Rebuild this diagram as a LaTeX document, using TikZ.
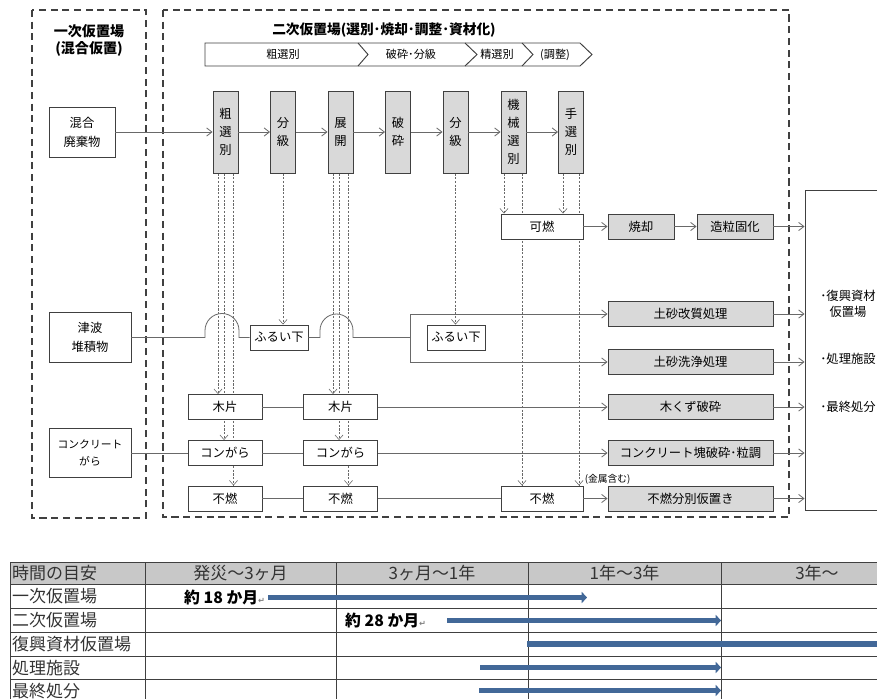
\documentclass[tikz,border=0pt]{standalone}
\usepackage{fontspec}
\setmainfont{Noto Sans CJK JP}
\newfontfamily\symfont{DejaVu Sans}
\usetikzlibrary{arrows.meta,backgrounds,calc}

\newcommand{\pxu}{0.03cm}

\definecolor{boxgray}{RGB}{217,217,217}
\definecolor{linegray}{RGB}{105,105,105}
\definecolor{edgegray}{RGB}{64,64,64}
\definecolor{headgray}{RGB}{200,200,200}
\definecolor{barblue}{RGB}{66,104,152}

\tikzset{
  box/.style={draw=edgegray, line width=0.8pt, fill=white, inner sep=0pt,
    font=\fontsize{10.5}{12}\selectfont},
  procbox/.style={box, fill=boxgray, minimum width=25*\pxu, minimum height=82*\pxu,
    align=center, font=\fontsize{10.5}{15.5}\selectfont},
  outbox/.style={box, fill=boxgray, minimum height=25*\pxu},
  itembox/.style={box, minimum width=74*\pxu, minimum height=25*\pxu},
  srcbox/.style={box, minimum height=50*\pxu, align=center,
    font=\fontsize{10.5}{16}\selectfont},
  flow/.style={draw=linegray, line width=0.7pt, -{Straight Barb[length=4.5pt,width=7pt]}},
  link/.style={draw=linegray, line width=0.7pt},
  drop/.style={draw=linegray, line width=0.5pt, dash pattern=on 1.8pt off 1.4pt,
    -{Straight Barb[length=4pt,width=7pt]}},
  zone/.style={draw=edgegray, line width=1.1pt, dash pattern=on 6pt off 4pt},
  tabline/.style={draw=black!75, line width=0.6pt},
  tabtext/.style={text=black!80, inner sep=0pt, font=\fontsize{14.5}{16}\selectfont},
  bar/.style={draw=barblue, line width=4.7pt},
}

\begin{document}
\begin{tikzpicture}[x=\pxu, y=-\pxu]
    % Fix the frame of the page
    \useasboundingbox (0,0) rectangle (877,699);

    % Draw the two yards (dashed)
    \draw[zone] (32,10) rectangle (146,518);
    \draw[zone] (163,10) rectangle (789,517);

    % Titles
    \node[font=\bfseries\fontsize{12}{14}\selectfont] (yard1) at (89,31) {一次仮置場};
    \node[font=\bfseries\fontsize{12}{14}\selectfont] (yard1b) at (89,49) {(混合仮置)};
    \node[font=\bfseries\fontsize{11.7}{14}\selectfont] (yard2) at (384,30) {二次仮置場(選別･焼却･調整･資材化)};

    % Stage header (chevrons)
    \draw[edgegray, line width=0.8pt, fill=white] (205,43) -- (580,43) -- (592,54.5) -- (580,66) -- (205,66) -- cycle;
    \foreach \xa/\xb in {358/368, 465/477, 522/533}
        \draw[edgegray, line width=0.8pt] (\xa,43) -- (\xb,54.5) -- (\xa,66);
    \node[font=\fontsize{9.5}{11}\selectfont] (stage1) at (283,54.5) {粗選別};
    \node[font=\fontsize{9.5}{11}\selectfont] (stage2) at (411,54.5) {破砕･分級};
    \node[font=\fontsize{9.5}{11}\selectfont] (stage3) at (497,54.5) {精選別};
    \node[font=\fontsize{9.5}{11}\selectfont] (stage4) at (555,54.5) {(調整)};

    % Sources
    \node[srcbox, minimum width=66*\pxu] (mixw) at (82,132) {混合\\廃棄物};
    \node[srcbox, minimum width=82*\pxu] (tsunami) at (90,337.5) {津波\\堆積物};
    \node[srcbox, minimum width=82*\pxu, minimum height=49*\pxu,
          font=\fontsize{9.2}{15}\selectfont] (conc) at (90,453) {コンクリート\\がら};

    % Process line
    \node[procbox] (p1) at (225.5,132) {粗\\選\\別};
    \node[procbox] (p2) at (283,132) {分\\級};
    \node[procbox] (p3) at (340.5,132) {展\\開};
    \node[procbox] (p4) at (398,132) {破\\砕};
    \node[procbox] (p5) at (455.5,132) {分\\級};
    \node[procbox] (p6) at (513.5,132) {機\\械\\選\\別};
    \node[procbox] (p7) at (571,132) {手\\選\\別};

    % Sorted items
    \node[itembox, minimum width=82*\pxu] (kanen) at (542,226.5) {可燃};
    \node[itembox, minimum width=58*\pxu] (furui1) at (279,337.5) {ふるい下};
    \node[itembox, minimum width=58*\pxu] (furui2) at (456,337.5) {ふるい下};
    \node[itembox] (moku1) at (225,407) {木片};
    \node[itembox] (moku2) at (340.5,407) {木片};
    \node[itembox] (kon1) at (225,453) {コンがら};
    \node[itembox] (kon2) at (340.5,453) {コンがら};
    \node[itembox] (fun1) at (225,498.5) {不燃};
    \node[itembox] (fun2) at (340.5,498.5) {不燃};
    \node[itembox, minimum width=82*\pxu] (fun3) at (542,498.5) {不燃};
    \node[anchor=south west, inner sep=1pt, font=\fontsize{8.3}{9}\selectfont] (metal) at (fun3.north east) {(金属含む)};

    % Treatment
    \node[outbox, minimum width=66*\pxu] (shokyaku) at (641,226.5) {焼却};
    \node[outbox, minimum width=76*\pxu] (zoryu) at (735,226.5) {造粒固化};
    \node[outbox, minimum width=165*\pxu] (o1) at (690.5,314) {土砂改質処理};
    \node[outbox, minimum width=165*\pxu] (o2) at (690.5,362) {土砂洗浄処理};
    \node[outbox, minimum width=165*\pxu] (o3) at (690.5,407) {木くず破砕};
    \node[outbox, minimum width=165*\pxu] (o4) at (690.5,453) {コンクリート塊破砕･粒調};
    \node[outbox, minimum width=165*\pxu] (o5) at (690.5,498.5) {不燃分別仮置き};

    % Destinations
    \node[draw=edgegray, line width=0.8pt, inner sep=0pt, minimum width=100*\pxu,
          minimum height=320*\pxu] (dest) at (855,350) {};
    \node[align=center, font=\fontsize{10.5}{13.5}\selectfont] (dest1) at (848,304) {･復興資材\\仮置場};
    \node[font=\fontsize{10.5}{12}\selectfont] (dest2) at (848,359) {･処理施設};
    \node[font=\fontsize{10.5}{12}\selectfont] (dest3) at (848,407) {･最終処分};

    % Main flow
    \draw[flow] (mixw.east) -- (p1.west);
    \foreach \a/\b in {p1/p2, p2/p3, p3/p4, p4/p5, p5/p6, p6/p7}
        \draw[flow] (\a) -- (\b);
    \draw[flow] (kanen) -- (shokyaku);
    \draw[flow] (shokyaku) -- (zoryu);
    \draw[flow] (zoryu.east) -- (zoryu.east -| dest.west);
    \foreach \o in {o1, o2, o3, o4, o5}
        \draw[flow] (\o.east) -- (\o.east -| dest.west);

    % Item rows
    \draw[link] (moku1) -- (moku2);
    \draw[flow] (moku2) -- (o3);
    \draw[link] (conc) -- (kon1);
    \draw[link] (kon1) -- (kon2);
    \draw[flow] (kon2) -- (o4);
    \draw[link] (fun1) -- (fun2);
    \draw[link] (fun2) -- (fun3);
    \draw[flow] (fun3) -- (o5);

    % Tsunami deposit line with hops
    \coordinate (hop1) at (222,337.5);
    \coordinate (hop2) at (336.5,337.5);
    \coordinate (split) at (410,337.5);
    \draw[link] (tsunami.east) -- ($(hop1)+(-17,0)$) -- ++(0,-7)
        arc[start angle=180, end angle=0, radius=17*\pxu] -- ++(0,7) -- (furui1.west);
    \draw[link] (furui1.east) -- ($(hop2)+(-16.5,0)$) -- ++(0,-7)
        arc[start angle=180, end angle=0, radius=16.5*\pxu] -- ++(0,7) -- (split);
    \draw[flow] (split) |- (o1.west);
    \draw[flow] (split) |- (o2.west);

    % Dropped fractions (dashed, behind the boxes)
    \begin{pgfonlayer}{background}
    \foreach \src/\ma/\mb/\mc in {p1/moku1/kon1/fun1, p3/moku2/kon2/fun2} {
        \draw[drop] ($(\src.south)+(-7.5,0)$) -- ($(\src.south |- \ma.north)+(-7.5,0)$);
        \draw[drop] ($(\src.south)+(-1.5,0)$) -- ($(\src.south |- \mb.north)+(-1.5,0)$);
        \draw[drop] ($(\src.south)+(8,0)$) -- ($(\src.south |- \mc.north)+(8,0)$);
    }
    \draw[drop] (p2.south) -- (p2.south |- furui1.north);
    \draw[drop] (p5.south) -- (p5.south |- furui2.north);
    \draw[drop] ($(p6.south)+(-9.5,0)$) -- ($(p6.south |- kanen.north)+(-9.5,0)$);
    \draw[drop] ($(p6.south)+(8.5,0)$) -- ($(p6.south |- fun3.north)+(8.5,0)$);
    \draw[drop] ($(p7.south)+(-8,0)$) -- ($(p7.south |- kanen.north)+(-8,0)$);
    \draw[drop] ($(p7.south)+(8,0)$) -- ($(p7.south |- fun3.north)+(8,0)$);
    \end{pgfonlayer}

    % Timeline table
    \fill[headgray] (10,562) rectangle (880,584);
    \foreach \y in {562, 584, 608, 632, 656, 679}
        \draw[tabline] (10,\y) -- (880,\y);
    \foreach \x in {10, 145, 336, 528, 721}
        \draw[tabline] (\x,562) -- (\x,699);
    \node[tabtext, anchor=west] (hd0) at (12,573) {時間の目安};
    \node[tabtext] (hd1) at (240.5,573) {発災～3ヶ月};
    \node[tabtext] (hd2) at (432,573) {3ヶ月～1年};
    \node[tabtext] (hd3) at (624.5,573) {1年～3年};
    \node[tabtext] (hd4) at (817,573) {3年～};
    \node[tabtext, anchor=west] (row1) at (12,596.5) {一次仮置場};
    \node[tabtext, anchor=west] (row2) at (12,620.5) {二次仮置場};
    \node[tabtext, anchor=west] (row3) at (12,644) {復興資材仮置場};
    \node[tabtext, anchor=west] (row4) at (12,668) {処理施設};
    \node[tabtext, anchor=west] (row5) at (12,691) {最終処分};

    % Durations
    \node[anchor=west, inner sep=0pt, font=\bfseries\fontsize{13.5}{15}\selectfont] (dur1) at (184,597)
        {約 18 か月{\symfont\color{gray}\fontsize{7}{8}\selectfont ↵}};
    \node[anchor=west, inner sep=0pt, font=\bfseries\fontsize{13.5}{15}\selectfont] (dur2) at (345,620.5)
        {約 28 か月{\symfont\color{gray}\fontsize{7}{8}\selectfont ↵}};
    \draw[bar, -{Triangle[length=4.5pt,width=9.5pt]}] (268,597.5) -- (587,597.5);
    \draw[bar, -{Triangle[length=4.5pt,width=9.5pt]}] (447,620.5) -- (721,620.5);
    \draw[bar] (527,644) -- (885,644);
    \draw[bar, -{Triangle[length=4.5pt,width=9.5pt]}] (480,667.5) -- (721,667.5);
    \draw[bar, -{Triangle[length=4.5pt,width=9.5pt]}] (479,690.5) -- (721,690.5);
\end{tikzpicture}
\end{document}
